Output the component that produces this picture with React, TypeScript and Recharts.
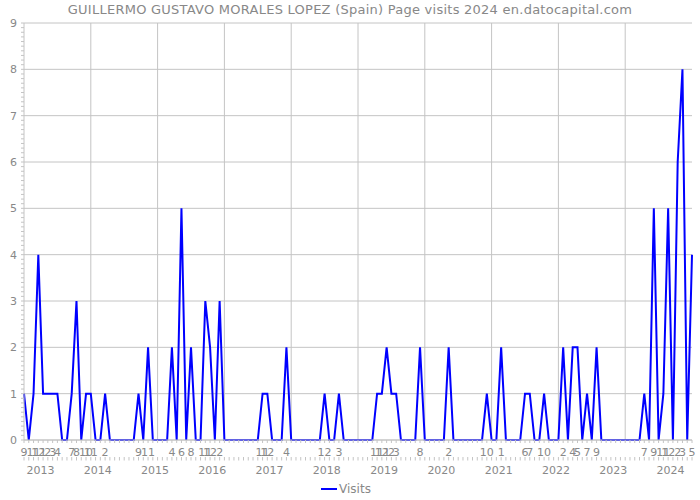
import React from 'react';
import { LineChart, Line, XAxis, YAxis, CartesianGrid, Legend } from 'recharts';

const TITLE = 'GUILLERMO GUSTAVO MORALES LOPEZ (Spain) Page visits 2024 en.datocapital.com';
const SERIES_NAME = 'Visits';
const START_YEAR = 2012;
const START_MONTH = 9; // September 2012

// Monthly visits, Sep 2012 .. May 2024
const visits2012 = [1, 0, 1, 4];
const visits2013 = [1, 1, 1, 1, 0, 0, 1, 3, 0, 1, 1, 0];
const visits2014 = [0, 1, 0, 0, 0, 0, 0, 0, 1, 0, 2, 0];
const visits2015 = [0, 0, 0, 2, 0, 5, 0, 2, 0, 0, 3, 2];
const visits2016 = [0, 3, 0, 0, 0, 0, 0, 0, 0, 0, 1, 1];
const visits2017 = [0, 0, 0, 2, 0, 0, 0, 0, 0, 0, 0, 1];
const visits2018 = [0, 0, 1, 0, 0, 0, 0, 0, 0, 0, 1, 1];
const visits2019 = [2, 1, 1, 0, 0, 0, 0, 2, 0, 0, 0, 0];
const visits2020 = [0, 2, 0, 0, 0, 0, 0, 0, 0, 1, 0, 0];
const visits2021 = [2, 0, 0, 0, 0, 1, 1, 0, 0, 1, 0, 0];
const visits2022 = [0, 2, 0, 2, 2, 0, 1, 0, 2, 0, 0, 0];
const visits2023 = [0, 0, 0, 0, 0, 0, 1, 0, 5, 0, 1, 5];
const visits2024 = [0, 6, 8, 0, 4];

const visits = [
  ...visits2012, ...visits2013, ...visits2014, ...visits2015, ...visits2016,
  ...visits2017, ...visits2018, ...visits2019, ...visits2020, ...visits2021,
  ...visits2022, ...visits2023, ...visits2024,
];

const yTicks = [0, 1, 2, 3, 4, 5, 6, 7, 8, 9];
const Y_MAX = 9;

const data = visits.map((v, i) => {
  const m0 = START_MONTH - 1 + i;
  return {
    t: i,
    month: (m0 % 12) + 1,
    year: START_YEAR + Math.floor(m0 / 12),
    visits: v,
  };
});

const allIdx = data.map((d) => d.t);
const yMinorTicks = Array.from({ length: Y_MAX * 10 + 1 }, (_, k) => k / 10);

const FONT = '"DejaVu Sans", sans-serif';
const TEXT = '#888888';
const GRID = '#c4c4c4';
const BLUE = '#0000ff';

const MonthTick = (props: any) => {
  const { x, y, payload } = props;
  const d = data[payload.value];
  return (
    <g>
      <line x1={x} x2={x} y1={y} y2={y + 3} stroke={GRID} strokeWidth={1} />
      {d && d.visits > 0 ? (
        <text x={x} y={y + 15.5} textAnchor="middle" fill={TEXT} fontSize={11} fontFamily={FONT}>
          {d.month}
        </text>
      ) : null}
    </g>
  );
};

const YearTick = (props: any) => {
  const { x, y, payload } = props;
  const d = data[payload.value];
  return (
    <g>
      <line x1={x} x2={x} y1={y} y2={y + 3.5} stroke={GRID} strokeWidth={1} />
      {d && d.month === 1 ? (
        <text x={x - 2.5} y={y + 16.5} textAnchor="middle" fill={TEXT} fontSize={11} fontFamily={FONT}>
          {d.year}
        </text>
      ) : null}
    </g>
  );
};

const YTick = (props: any) => {
  const { x, y, payload } = props;
  const v = payload.value;
  const isMajor = Math.abs(v - Math.round(v)) < 1e-6;
  return (
    <g>
      <line x1={x - 3} x2={x} y1={y} y2={y} stroke={GRID} strokeWidth={1} />
      {isMajor ? (
        <text x={x - 7} y={y} dy="0.36em" textAnchor="end" fill={TEXT} fontSize={11} fontFamily={FONT}>
          {Math.round(v)}
        </text>
      ) : null}
    </g>
  );
};

const LegendContent = () => (
  <div
    style={{
      height: 20,
      display: 'flex',
      justifyContent: 'center',
      alignItems: 'center',
      fontFamily: FONT,
      fontSize: 12,
      color: TEXT,
    }}
  >
    <svg width={16} height={4} style={{ marginRight: 2 }}>
      <line x1={0} x2={16} y1={2} y2={2} stroke={BLUE} strokeWidth={2} />
    </svg>
    <span>{SERIES_NAME}</span>
  </div>
);

export default function App() {
  return (
    <div style={{ position: 'absolute', left: 0, top: 0, width: 700, height: 500, background: '#fff' }}>
      <svg width={700} height={22} style={{ position: 'absolute', left: 0, top: 0 }}>
        <text
          x={350}
          y={13.5}
          textAnchor="middle"
          fill={TEXT}
          fontSize={13}
          fontFamily={FONT}
          letterSpacing={0.25}
        >
          {TITLE}
        </text>
      </svg>
      <LineChart width={700} height={500} data={data} margin={{ top: 23, right: 8, bottom: 1, left: 0 }}>
        <CartesianGrid
          stroke={GRID}
          horizontalCoordinatesGenerator={({ offset }: any) =>
            yTicks.map((v) => offset.top + offset.height * (1 - v / Y_MAX))
          }
          verticalCoordinatesGenerator={({ offset }: any) =>
            [1, 2, 3, 4, 5, 6, 7, 8, 9].map((k) => offset.left + (offset.width * k) / 10)
          }
        />
        <XAxis
          xAxisId="m"
          dataKey="t"
          type="number"
          domain={[0, visits.length - 1]}
          ticks={allIdx}
          interval={0}
          tickSize={0}
          tickMargin={0}
          tickLine={false}
          axisLine={{ stroke: GRID }}
          height={17}
          tick={<MonthTick />}
        />
        <XAxis
          xAxisId="y"
          dataKey="t"
          type="number"
          domain={[0, visits.length - 1]}
          ticks={allIdx}
          interval={0}
          tickSize={0}
          tickMargin={0}
          tickLine={false}
          axisLine={false}
          height={22}
          tick={<YearTick />}
        />
        <YAxis
          type="number"
          domain={[0, Y_MAX]}
          ticks={yMinorTicks}
          interval={0}
          width={24}
          tickSize={0}
          tickMargin={0}
          tickLine={false}
          axisLine={{ stroke: GRID }}
          tick={<YTick />}
        />
        <Legend verticalAlign="bottom" content={<LegendContent />} />
        <Line
          xAxisId="m"
          type="linear"
          dataKey="visits"
          name={SERIES_NAME}
          stroke={BLUE}
          strokeWidth={2}
          dot={false}
          isAnimationActive={false}
        />
      </LineChart>
    </div>
  );
}
